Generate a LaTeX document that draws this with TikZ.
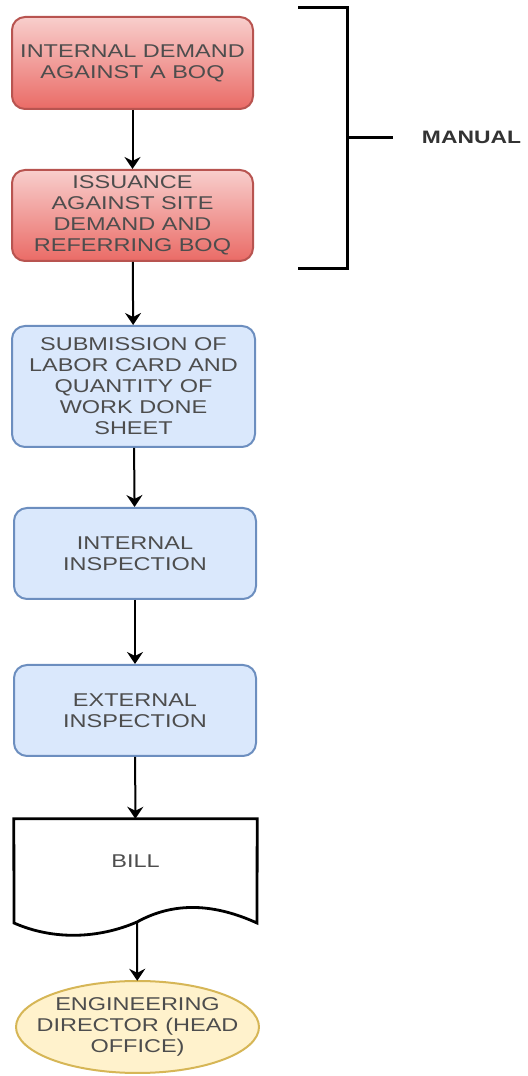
\documentclass[tikz,border=0pt]{standalone}
\usepackage{fontspec}
\setmainfont[FakeStretch=1.27]{Liberation Sans}
\usetikzlibrary{arrows.meta}
\definecolor{redfill}{HTML}{EA6B66}
\definecolor{redtop}{HTML}{F8CECC}
\definecolor{redline}{HTML}{B85450}
\definecolor{bluefill}{HTML}{DAE8FC}
\definecolor{blueline}{HTML}{6C8EBF}
\definecolor{yellowfill}{HTML}{FFF2CC}
\definecolor{yellowline}{HTML}{D6B656}
\definecolor{txtgray}{HTML}{4D4D4D}
\begin{document}
\begin{tikzpicture}[>={Stealth[length=12bp,width=16bp,inset=4bp]},line join=bevel,
  font=\fontsize{18.5bp}{21bp}\selectfont,text=txtgray,
  flowbox/.style={rectangle,rounded corners=13bp,line width=2bp,align=center,inner sep=0pt},
  redbox/.style={flowbox,draw=redline,top color=redtop,bottom color=redfill,minimum width=241bp,minimum height=92bp},
  bluebox/.style={flowbox,draw=blueline,fill=bluefill,minimum width=242bp,minimum height=91bp},
  flowarrow/.style={black,line width=2bp,->}]
\useasboundingbox (0,0) rectangle (528bp,1076bp);
%%
\path [draw=yellowline,fill=yellowfill,line width=2bp] (137.5bp,49bp) ellipse [x radius=121.5bp,y radius=46bp];
%
\node (demand) at (132.5bp,1013bp) [redbox] {INTERNAL DEMAND\\AGAINST A BOQ};
  \node (issuance) at (132.5bp,860.5bp) [redbox,minimum height=91bp] {ISSUANCE\\AGAINST SITE\\DEMAND AND\\REFERRING BOQ};
  \node (submission) at (133.5bp,689.5bp) [bluebox,minimum width=243bp,minimum height=121bp] {SUBMISSION OF\\LABOR CARD AND\\QUANTITY OF\\WORK DONE\\SHEET};
  \node (intinsp) at (135bp,522.5bp) [bluebox] {INTERNAL\\INSPECTION};
  \node (extinsp) at (135bp,365.5bp) [bluebox] {EXTERNAL\\INSPECTION};
  \node (bill) at (135.5bp,215bp) [rectangle,draw=none,minimum width=243bp,minimum height=84bp,inner sep=0pt] {BILL};
  \coordinate (billbot) at (137bp,154bp);
  \node (director) at (137.5bp,49bp) [rectangle,draw=none,minimum width=243bp,minimum height=92bp,inner sep=0pt,align=center] {ENGINEERING\\DIRECTOR (HEAD\\OFFICE)};
  \node (manual) at (471.5bp,939bp) [text=black!80,font=\fontsize{18bp}{20bp}\selectfont\bfseries] {MANUAL};
%
\draw [black,line width=2.8bp,line join=miter] (bill.north west) -- (bill.north east) -- (257bp,153bp)
  .. controls (215bp,172bp) and (175bp,175bp) .. (billbot)
  .. controls (100bp,138bp) and (55bp,135bp) .. (14bp,153bp) -- cycle;
  \draw [black,line width=3bp,line join=miter] (298bp,1068bp) -- (347bp,1068bp) -- (347bp,807bp) -- (298bp,807bp);
  \draw [black,line width=3bp] (347bp,938bp) -- (393bp,938bp);
%
\draw [flowarrow] (demand) -- (issuance);
  \draw [flowarrow] (issuance) -- (submission);
  \draw [flowarrow] (submission) -- (intinsp);
  \draw [flowarrow] (intinsp) -- (extinsp);
  \draw [flowarrow] (extinsp) -- (bill);
  \draw [flowarrow] (billbot) -- (director);
%
\end{tikzpicture}
\end{document}
